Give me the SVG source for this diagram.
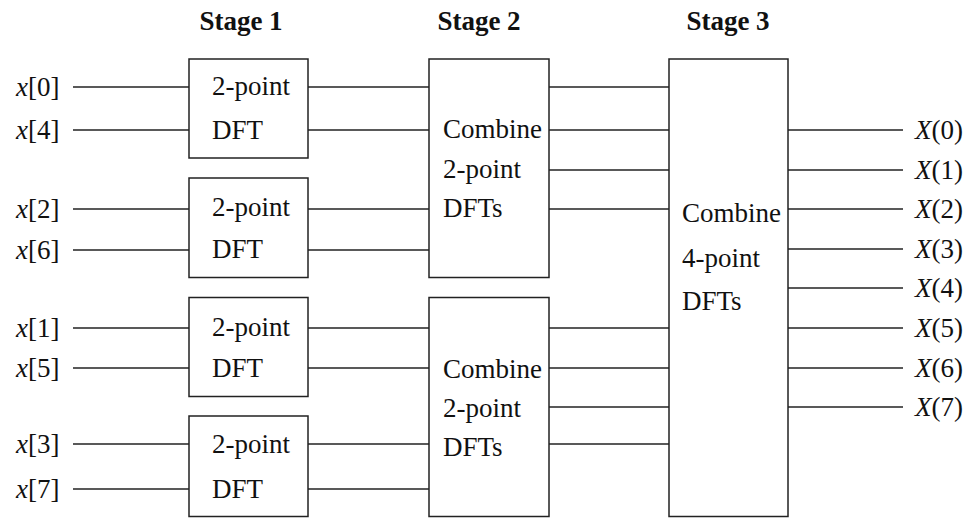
<svg xmlns="http://www.w3.org/2000/svg" width="969" height="518" viewBox="0 0 969 518">
  <style>
    .bg { fill: #ffffff; }
    .box { fill: #ffffff; stroke: #222222; stroke-width: 1.5; }
    .wire { stroke: #222222; stroke-width: 1.4; fill: none; }
    text { font-family: Liberation Serif, Times New Roman, serif; font-size: 27px; fill: #111111; }
    .head { font-weight: bold; text-anchor: middle; }
    .var { font-style: italic; }
  </style>
  <rect class="bg" x="0" y="0" width="969" height="518"/>

  <!-- stage headings -->
  <g id="headings">
    <text class="head" x="241" y="30">Stage 1</text>
    <text class="head" x="479" y="30">Stage 2</text>
    <text class="head" x="728" y="30">Stage 3</text>
  </g>

  <!-- wires between inputs, stages and outputs -->
  <g id="connectors">
    <!-- inputs to stage 1 -->
    <line class="wire" x1="73" y1="87" x2="189" y2="87"/>
    <line class="wire" x1="73" y1="130" x2="189" y2="130"/>
    <line class="wire" x1="73" y1="209" x2="189" y2="209"/>
    <line class="wire" x1="73" y1="250" x2="189" y2="250"/>
    <line class="wire" x1="73" y1="328" x2="189" y2="328"/>
    <line class="wire" x1="73" y1="368" x2="189" y2="368"/>
    <line class="wire" x1="73" y1="444" x2="189" y2="444"/>
    <line class="wire" x1="73" y1="489" x2="189" y2="489"/>
    <!-- stage 1 to stage 2 -->
    <line class="wire" x1="308" y1="87" x2="429" y2="87"/>
    <line class="wire" x1="308" y1="130" x2="429" y2="130"/>
    <line class="wire" x1="308" y1="209" x2="429" y2="209"/>
    <line class="wire" x1="308" y1="250" x2="429" y2="250"/>
    <line class="wire" x1="308" y1="328" x2="429" y2="328"/>
    <line class="wire" x1="308" y1="368" x2="429" y2="368"/>
    <line class="wire" x1="308" y1="444" x2="429" y2="444"/>
    <line class="wire" x1="308" y1="489" x2="429" y2="489"/>
    <!-- stage 2 to stage 3 -->
    <line class="wire" x1="549" y1="87" x2="669" y2="87"/>
    <line class="wire" x1="549" y1="130" x2="669" y2="130"/>
    <line class="wire" x1="549" y1="170" x2="669" y2="170"/>
    <line class="wire" x1="549" y1="209" x2="669" y2="209"/>
    <line class="wire" x1="549" y1="328" x2="669" y2="328"/>
    <line class="wire" x1="549" y1="368" x2="669" y2="368"/>
    <line class="wire" x1="549" y1="407" x2="669" y2="407"/>
    <line class="wire" x1="549" y1="444" x2="669" y2="444"/>
    <!-- stage 3 to outputs -->
    <line class="wire" x1="788" y1="130" x2="903" y2="130"/>
    <line class="wire" x1="788" y1="170" x2="903" y2="170"/>
    <line class="wire" x1="788" y1="209" x2="903" y2="209"/>
    <line class="wire" x1="788" y1="249" x2="903" y2="249"/>
    <line class="wire" x1="788" y1="288" x2="903" y2="288"/>
    <line class="wire" x1="788" y1="328" x2="903" y2="328"/>
    <line class="wire" x1="788" y1="368" x2="903" y2="368"/>
    <line class="wire" x1="788" y1="407" x2="903" y2="407"/>
  </g>

  <!-- input samples -->
  <g id="inputs">
    <text x="16" y="96"><tspan class="var">x</tspan>[0]</text>
    <text x="16" y="139"><tspan class="var">x</tspan>[4]</text>
    <text x="16" y="218"><tspan class="var">x</tspan>[2]</text>
    <text x="16" y="259"><tspan class="var">x</tspan>[6]</text>
    <text x="16" y="337"><tspan class="var">x</tspan>[1]</text>
    <text x="16" y="377"><tspan class="var">x</tspan>[5]</text>
    <text x="16" y="453"><tspan class="var">x</tspan>[3]</text>
    <text x="16" y="498"><tspan class="var">x</tspan>[7]</text>
  </g>

  <!-- stage 1: four 2-point DFTs -->
  <g id="dft2-a">
    <rect class="box" x="189" y="59" width="119" height="99"/>
    <text x="212" y="95">2-point</text>
    <text x="212" y="139">DFT</text>
  </g>
  <g id="dft2-b">
    <rect class="box" x="189" y="178" width="119" height="99.5"/>
    <text x="212" y="216">2-point</text>
    <text x="212" y="258">DFT</text>
  </g>
  <g id="dft2-c">
    <rect class="box" x="189" y="297.5" width="119" height="99"/>
    <text x="212" y="336">2-point</text>
    <text x="212" y="377">DFT</text>
  </g>
  <g id="dft2-d">
    <rect class="box" x="189" y="416" width="119" height="100.5"/>
    <text x="212" y="453">2-point</text>
    <text x="212" y="498">DFT</text>
  </g>

  <!-- stage 2: combine pairs of 2-point DFTs -->
  <g id="combine2-top">
    <rect class="box" x="429" y="59" width="120" height="218.5"/>
    <text x="443" y="138">Combine</text>
    <text x="443" y="178">2-point</text>
    <text x="443" y="217">DFTs</text>
  </g>
  <g id="combine2-bottom">
    <rect class="box" x="429" y="297.5" width="120" height="219"/>
    <text x="443" y="378">Combine</text>
    <text x="443" y="417">2-point</text>
    <text x="443" y="456">DFTs</text>
  </g>

  <!-- stage 3: combine the two 4-point DFTs -->
  <g id="combine4">
    <rect class="box" x="669" y="59" width="119" height="457.5"/>
    <text x="682" y="222">Combine</text>
    <text x="682" y="267">4-point</text>
    <text x="682" y="310">DFTs</text>
  </g>

  <!-- output bins -->
  <g id="outputs">
    <text x="915" y="139"><tspan class="var">X</tspan>(0)</text>
    <text x="915" y="179"><tspan class="var">X</tspan>(1)</text>
    <text x="915" y="218"><tspan class="var">X</tspan>(2)</text>
    <text x="915" y="258"><tspan class="var">X</tspan>(3)</text>
    <text x="915" y="297"><tspan class="var">X</tspan>(4)</text>
    <text x="915" y="337"><tspan class="var">X</tspan>(5)</text>
    <text x="915" y="377"><tspan class="var">X</tspan>(6)</text>
    <text x="915" y="416"><tspan class="var">X</tspan>(7)</text>
  </g>
</svg>
